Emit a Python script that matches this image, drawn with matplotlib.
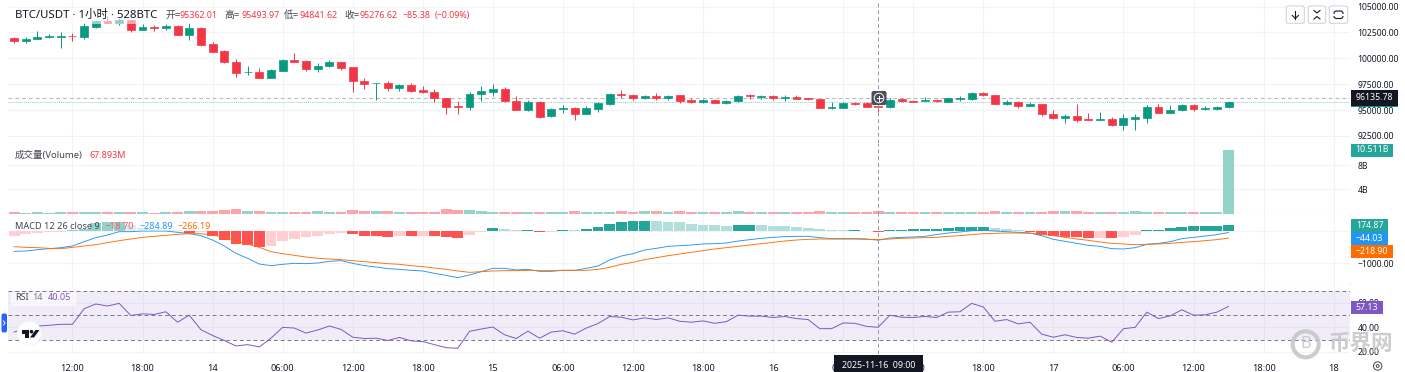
import matplotlib
matplotlib.use("Agg")
import matplotlib.pyplot as plt
from matplotlib.patches import Rectangle, FancyBboxPatch, Circle, Polygon

plt.rcParams['font.family'] = ['Noto Sans', 'Noto Sans CJK SC', 'DejaVu Sans']

# candles, one per hour, first one is 2025-11-13 07:00
opens = [101955,101633,101826,102084,102084,102181,102084,103050,103630,103436,
         103694,102760,102986,102953,103114,102277,102921,101376,100667,99605,
         98639,98703,98123,98800,99862,99733,98961,99250,99605,99122,
         97833,97576,97608,97157,97415,96932,96739,96127,95386,95258,
         96578,96771,97029,95869,95000,95805,94388,95064,95225,94614,
         95097,95580,96546,96449,96127,96385,96127,96417,95966,95773,
         95966,95708,95837,96449,96256,96352,96127,96256,96159,96030,
         95225,95225,95676,95676,95362,95258,96030,95902,95902,95966,
         95805,96095,96095,96674,96417,95612,95773,95419,95547,94646,
         94259,94420,94131,94066,94098,93519,94163,94259,95290,94742,
         94968,95515,95129,95129,95258]
highs = [102052,102020,102631,102374,102567,102470,103372,103694,104080,103855,
         103694,103308,103179,103308,103179,103436,102986,101537,100796,99927,
         99283,99025,98928,99927,100506,99798,99572,99862,99669,99186,
         98091,97608,97801,97480,97576,97319,96996,96159,95837,96771,
         97318,97512,97190,96385,95966,95869,95225,95515,95290,95419,
         95741,96610,96932,96546,96481,96642,96449,96481,96191,96095,
         96030,95966,96449,96578,96449,96449,96449,96417,96191,96095,
         95805,95741,95773,95741,95494,96127,96127,95998,96256,96063,
         96191,96320,96739,96739,96481,95966,95837,95773,95612,95000,
         94646,95580,94678,94775,94324,94614,94646,95451,95547,95451,
         95580,95580,95354,95386,95837]
lows = [101504,101504,101826,101987,100957,101698,101826,102921,103372,103243,
        102535,102696,102664,102760,102213,101762,101215,100603,99572,98188,
        98349,98059,98091,98767,99605,98800,98703,99186,98864,96771,
        97029,95966,96835,96835,96771,96642,95805,94614,94614,95000,
        95902,96352,95741,94968,94871,94227,94324,94742,94066,94581,
        94839,95483,96127,95966,96030,95966,95966,95708,95644,95708,
        95644,95580,95773,96030,96030,95966,95869,96030,95934,95161,
        95129,95161,95483,95258,94842,95161,95741,95741,95837,95805,
        95741,95837,95966,96320,95547,95483,95193,95354,94453,94098,
        93776,93873,94002,94034,93454,93068,93068,93776,94678,94678,
        94904,94936,95000,95000,95225]
closes = [101633,101891,102084,102181,102148,102116,103114,103630,103436,103694,
          102728,102986,102921,103114,102277,102889,101279,100635,99605,98606,
          98703,98123,98864,99862,99637,98928,99283,99605,99057,97801,
          97512,97608,97125,97415,96835,96707,96127,95322,95290,96578,
          96835,97029,95837,95032,95805,94356,95097,95225,94614,95161,
          95676,96546,96481,96127,96385,96127,96385,95869,95773,95966,
          95708,95869,96385,96320,96385,96127,96256,96095,96030,95225,
          95290,95676,95612,95322,95277,95998,95837,95805,95966,95869,
          96127,96159,96674,96417,95612,95773,95386,95547,94581,94259,
          94420,94034,94034,94131,93519,94195,94292,95290,94742,95000,
          95515,95129,95225,95290,95773]

# volume in billions
volumes = [.17,.11,.17,.11,.22,.22,.22,.22,.22,.17,.28,.17,.11,.17,.28,.44,.44,.39,.56,.72,
           .39,.39,.22,.22,.22,.22,.39,.22,.22,.56,.39,.39,.39,.22,.22,.22,.22,.72,.56,.56,
           .44,.33,.33,.33,.33,.33,.33,.28,.39,.33,.33,.33,.39,.17,.39,.39,.17,.39,.17,.17,
           .17,.17,.39,.17,.17,.17,.17,.17,.17,.39,.17,.17,.17,.17,.44,.17,.17,.17,.17,
           .17,.17,.17,.17,.17,.39,.17,.17,.17,.33,.44,.39,.44,.33,.17,.33,.33,.44,.28,.28,
           .28,.28,.33,.17,.17,10.511]

macd_hist = [-144,-103,-52,-31,-21,21,62,237,268,273,186,103,62,31,21,-52,-41,-144,-279,-392,
             -433,-485,-464,-310,-258,-186,-155,-83,-62,-93,-155,-160,-176,-155,-165,-155,-165,-196,-217,-124,
             -21,93,72,21,31,-31,-26,31,21,62,124,217,279,299,320,299,294,279,217,196,
             186,155,186,191,175,170,155,124,103,62,21,16,41,-15,-18.7,31,33,62,64,66,
             93,114,134,139,93,62,21,-31,-114,-155,-186,-196,-217,-206,-217,-186,-124,21,31,83,
             134,155,156,157,174.87]
macd_line = [-630,-619,-578,-547,-516,-464,-330,-206,-124,-21,-21,0,0,0,-41,-83,-144,-279,-464,-691,
             -846,-1022,-1073,-1032,-1001,-1011,-991,-939,-918,-1001,-1073,-1115,-1166,-1187,-1218,-1238,-1311,-1373,-1445,-1362,
             -1259,-1156,-1156,-1207,-1187,-1249,-1249,-1218,-1218,-1156,-1084,-898,-774,-702,-588,-537,-475,-454,-433,-402,
             -392,-372,-310,-268,-227,-196,-175,-165,-165,-206,-237,-237,-237,-248,-284.89,-217,-196,-186,-165,
             -110,-62,-31,10,21,0,-21,-41,-62,-144,-258,-320,-382,-444,-475,-547,-557,-516,-413,-382,-330,
             -237,-196,-155,-113,-44.03]
macd_signal = [-485,-506,-516,-537,-547,-506,-464,-423,-361,-299,-248,-196,-165,-134,-103,-83,-83,-124,-196,-299,
               -402,-506,-640,-702,-753,-805,-846,-867,-888,-918,-949,-980,-1011,-1032,-1073,-1104,-1146,-1187,-1238,-1280,
               -1259,-1238,-1228,-1228,-1218,-1228,-1228,-1218,-1218,-1218,-1187,-1125,-1032,-970,-888,-826,-764,-712,-660,-609,
               -557,-516,-475,-433,-392,-351,-310,-279,-258,-248,-248,-248,-248,-258,-266.19,-248,-227,-217,-206,
               -196,-165,-144,-113,-83,-72,-62,-62,-72,-103,-144,-196,-248,-289,-341,-382,-402,-423,-413,-402,-382,
               -351,-330,-299,-268,-218.9]
rsi = [36.1,39.4,41.1,41.7,42.5,42.5,55.3,59.2,57.5,59.7,49.7,51.1,50.6,52.8,44.2,50,38.1,33.3,29.2,24.7,
       25.8,23.9,31.1,40,39.4,35.3,37.8,41.1,38.3,31.9,30.8,31.1,29.2,31.7,28.9,28.3,25.8,23.3,22.8,36.7,
       38.6,40.3,33.9,30.8,36.9,31.1,36.1,37.2,34.4,39.4,43.1,48.9,48.3,46.1,47.8,46.4,47.8,45,44.2,45.3,
       43.3,44.7,50,49.2,49.2,48.1,48.9,47.2,46.4,38.9,38.9,43.6,43.3,40.8,40.05,50,48.3,48.1,48.9,48.1,
       52.5,52.8,59.7,56.7,45,46.4,42.8,44.2,34.4,31.9,33.9,31.7,31.1,32.8,27.8,38.9,40,52.5,47.2,49.4,
       54.4,50,50.3,52.5,57.13]

time_ticks = [5,11,17,23,29,35,41,47,53,59,65,71,77,83,89,95,101,107,113]
time_labels = ["12:00","18:00","14","06:00","12:00","18:00","15","06:00","12:00","18:00",
               "16","06:00","12:00","18:00","17","06:00","12:00","18:00","18"]
price_ticks = [92500,95000,97500,100000,102500,105000]
volume_ticks = [4,8]
macd_ticks = [-1000,0]
rsi_ticks = [20,40,60]
cross_i = 74
cross_price = 96135.78

W, H = 1405, 372
GREEN, RED = "#089981", "#F23645"
GRID = "#F2F3F5"
TXT = "#131722"
X0, X1 = 8, 1350
xlim = (-0.52, 114.4)

fig = plt.figure(figsize=(W/100, H/100), dpi=100, facecolor="white")

def pane(top, bottom, ylim, ticks, labels):
    ax = fig.add_axes([X0/W, 1-bottom/H, (X1-X0)/W, (bottom-top)/H])
    ax.set_xlim(xlim)
    ax.set_ylim(ylim)
    for s in ["top","left","right"]:
        ax.spines[s].set_visible(False)
    ax.spines["bottom"].set_color("#E0E3EB")
    ax.yaxis.tick_right()
    ax.set_yticks(ticks)
    ax.set_yticklabels(labels)
    ax.set_xticks(time_ticks)
    ax.set_xticklabels([])
    ax.tick_params(length=0, labelsize=6.2, labelcolor=TXT, pad=5.5)
    ax.grid(True, color=GRID, lw=0.8)
    ax.set_axisbelow(True)
    ax.axvline(cross_i, color="#9598A1", lw=0.7, ls=(0,(4,3)), zorder=6)
    return ax

# price
ax1 = pane(0, 143, (91809,105637), price_ticks, ["%.2f" % p for p in price_ticks])
n = len(closes)
xs = list(range(n))
up = [closes[i] >= opens[i] for i in xs]
cols = [GREEN if u else RED for u in up]
ax1.vlines(xs, lows, highs, colors=cols, lw=0.7, zorder=3)
ax1.bar(xs, [closes[i]-opens[i] for i in xs], bottom=opens, width=0.68, color=cols,
        edgecolor=cols, lw=0.5, zorder=4)
ax1.axhline(cross_price, color="#B2B5BE", lw=0.7, ls=(0,(4,3)), zorder=2)
ax1.axhline(closes[-1], color=GREEN, lw=0.7, ls=(0,(1,1)), alpha=0.45, zorder=2)

# volume
ax2 = pane(143, 213.5, (0,11.72), volume_ticks, ["4B","8B"])
ax2.bar(xs, volumes, width=0.93, color=["#92D5C8" if u else "#F9A5AC" for u in up], zorder=3)

# macd
ax3 = pane(213.5, 284, (-1641,542), macd_ticks, ["\u22121000.00",""])
hcols = []
for i, v in enumerate(macd_hist):
    prev = macd_hist[i-1] if i > 0 else v
    if v >= 0:
        hcols.append("#26A69A" if v >= prev else "#B2DFDB")
    else:
        hcols.append("#FF5252" if v < prev else "#FFCDD2")
ax3.bar(xs, macd_hist, width=0.93, color=hcols, zorder=3)
ax3.plot(xs, macd_line, color="#2196F3", lw=0.65, zorder=4)
ax3.plot(xs, macd_signal, color="#FF6D00", lw=0.65, zorder=4)

# rsi
ax4 = pane(284, 354, (18.1,75.6), rsi_ticks, ["20.00","40.00","60.00"])
ax4.spines["bottom"].set_visible(False)
ax4.axhspan(30, 70, color="#7E57C2", alpha=0.1, lw=0, zorder=1)
for lv in [30,50,70]:
    ax4.axhline(lv, color="#787B86", lw=0.7, ls=(0,(4,3)), zorder=2)
ax4.plot(xs, rsi, color="#7E57C2", lw=0.7, zorder=4)
ax4.set_xticklabels(time_labels)
ax4.tick_params(axis="x", pad=7.5, labelsize=6.6)

# everything below is drawn in pixel coords on top
ui = fig.add_axes([0,0,1,1], zorder=10)
ui.set_xlim(0,W)
ui.set_ylim(H,0)
ui.axis("off")
ui.patch.set_alpha(0)

def txt(x, y, s, c=TXT, size=6.5, **kw):
    ui.text(x, y, s, color=c, fontsize=size, va="center", **kw)

def box(x0, y0, x1, y1, c):
    ui.add_patch(Rectangle((x0,y0), x1-x0, y1-y0, fc=c, ec="none", zorder=3))

def badge(x1, y0, y1, c, s):
    box(1351, y0, x1, y1, c)
    ui.text((1351+x1)/2, (y0+y1)/2, s, color="white", fontsize=6.3, fontweight="medium",
            ha="center", va="center", zorder=4)

# legends
ui.add_patch(Rectangle((10,8), 465, 15.5, fc="white", ec="none", alpha=0.55, zorder=1))
txt(15, 15, "BTC/USDT \u00b7 1\u5c0f\u65f6 \u00b7 528BTC", size=8.2, zorder=2)
for x, s in [(165,"\u5f00="),(224,"\u9ad8="),(284,"\u4f4e="),(344,"\u6536=")]:
    txt(x, 15.5, s, c="#434651", size=7, zorder=2)
for x, s in [(180,"95362.01"),(242,"95493.97"),(299,"94841.62"),(359,"95276.62"),
             (403,"\u221285.38"),(435,"(\u22120.09%)")]:
    txt(x, 15.5, s, c=RED, size=6.4, zorder=2)

txt(15, 155.7, "\u6210\u4ea4\u91cf(Volume)", size=6.8, c="#434651")
txt(89, 155.7, "67.893M", c=RED)

ui.add_patch(Rectangle((12,221), 201, 10, fc="white", ec="none", alpha=0.5, zorder=1))
txt(15, 226.7, "MACD 12 26 close 9", size=6.6, c="#434651", zorder=2)
txt(106, 226.7, "\u221218.70", c="#FF5252", zorder=2)
txt(139, 226.7, "\u2212284.89", c="#2196F3", zorder=2)
txt(178, 226.7, "\u2212266.19", c="#FF6D00", zorder=2)

ui.add_patch(Rectangle((11,292), 65, 13.5, fc="white", ec="none", alpha=0.6, zorder=1))
txt(15, 297.5, "RSI", size=6.5, c="#434651", zorder=2)
txt(32, 297.5, "14", size=6.5, c="#787B86", zorder=2)
txt(48, 297.5, "40.05", c="#7E57C2", zorder=2)

# badges on the right axis
box(1351, 105.7, 1398, 107, GREEN)
badge(1398, 90.3, 105.7, TXT, "96135.78")
badge(1393, 143.5, 156.5, "#26A69A", "10.511B")
badge(1388, 219, 232.3, "#26A69A", "174.87")
badge(1388, 232.3, 245, "#2196F3", "\u221244.03")
badge(1393, 245, 257.7, "#FF6D00", "\u2212218.90")
badge(1383, 301, 314, "#7E57C2", "57.13")

# date badge on time axis
box(834, 355, 922.7, 372, TXT)
ui.text(878.4, 365.5, "2025-11-16  09:00", color="white", fontsize=6.4, ha="center", va="center", zorder=4)

# crosshair plus button
ui.add_patch(FancyBboxPatch((871.5,91), 15, 14, boxstyle="round,pad=0,rounding_size=2", fc="#4A4E59", ec="none", zorder=5))
ui.add_patch(Circle((879,98), 4.8, fc="none", ec="white", lw=0.7, zorder=6))
ui.plot([876.5,881.5],[98,98], color="white", lw=0.7, zorder=6)
ui.plot([879,879],[95.5,100.5], color="white", lw=0.7, zorder=6)

# the three buttons top right
for x0, x1 in [(1286.3,1304.3),(1308.3,1325.7),(1329.3,1347.7)]:
    ui.add_patch(FancyBboxPatch((x0,6), x1-x0, 17.3, boxstyle="round,pad=0,rounding_size=2",
                                fc="white", ec="#D1D4DC", lw=0.8, zorder=3))
ui.plot([1295.3,1295.3],[11,18.5], color=TXT, lw=0.8, zorder=4)
ui.plot([1292.3,1295.3,1298.3],[15.5,18.5,15.5], color=TXT, lw=0.8, zorder=4)
ui.plot([1314,1317,1320],[10.5,13,10.5], color=TXT, lw=0.8, zorder=4)
ui.plot([1314,1317,1320],[19,16.5,19], color=TXT, lw=0.8, zorder=4)
ui.add_patch(FancyBboxPatch((1334,11), 9, 7.5, boxstyle="round,pad=0,rounding_size=2.5",
                            fc="none", ec=TXT, lw=0.8, zorder=4))
ui.add_patch(Rectangle((1332.5,13.6), 12, 2.4, fc="white", ec="none", zorder=5))

# side handle and logo
ui.add_patch(FancyBboxPatch((1.5,313.5), 5.5, 19, boxstyle="round,pad=0,rounding_size=2", fc="#2962FF", ec="none", zorder=3))
ui.plot([3.5,5,3.5],[321,323,325], color="white", lw=0.7, zorder=4)
ui.add_patch(Circle((29.3,333.3), 12, fc="white", ec="#F0F3FA", lw=0.6, zorder=3))
ui.add_patch(Polygon([(21.5,330),(29,330),(29,337.5),(25,337.5),(25,333.5),(21.5,333.5)], fc=TXT, ec="none", zorder=4))
ui.add_patch(Circle((31.5,331.7), 1.8, fc=TXT, ec="none", zorder=4))
ui.add_patch(Polygon([(35.5,330),(39.5,330),(34,337.5),(30,337.5)], fc=TXT, ec="none", zorder=4))

# watermark
ui.add_patch(Circle((1305.7,344.3), 13, fc="none", ec="#C4C4C4", lw=3, alpha=0.85, zorder=7))
ui.text(1305.7, 344.3, "B", color="#C4C4C4", fontsize=12, fontweight="bold", ha="center", va="center", alpha=0.85, zorder=7)
ui.text(1361, 344.3, "\u5e01\u754c\u7f51", color="#C4C4C4", fontsize=15.5, fontweight="bold", ha="center", va="center",
        alpha=0.85, zorder=7)

# settings gear
ui.add_patch(Circle((1377.7,366), 4.2, fc="none", ec="#434651", lw=0.7, zorder=4))
ui.add_patch(Circle((1377.7,366), 1.4, fc="none", ec="#434651", lw=0.7, zorder=4))

fig.savefig("out.png", dpi=100)
